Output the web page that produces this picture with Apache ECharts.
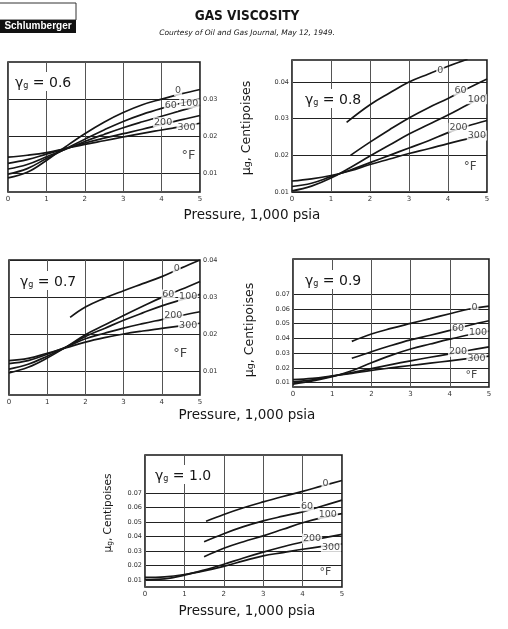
<!DOCTYPE html>
<html>
<head>
<meta charset="utf-8">
<title>Gas Viscosity</title>
<script src="https://cdn.jsdelivr.net/npm/echarts@6.0.0/dist/echarts.min.js"></script>
<style>
  html, body { margin: 0; padding: 0; background: #fff; }
  #main { width: 508px; height: 629px; }
</style>
</head>
<body>
<div id="main"></div>
<script>
// temperatures, deg F (curve labels)
var temps = ['0', '60', '100', '200', '300'];
var gravities = ['0.6', '0.8', '0.7', '0.9', '1.0'];
var pressureTicks = [0, 1, 2, 3, 4, 5];

// gamma 0.6 : [pressure (1000 psia), viscosity (cp)]
var curves06 = [
    [[0, 0.0088], [0.5, 0.0103], [1, 0.0135], [1.5, 0.0172], [2, 0.0207], [2.5, 0.0238], [3, 0.0264], [3.5, 0.0285], [4, 0.0300], [4.5, 0.0314], [5, 0.0326]],
    [[0, 0.0098], [0.5, 0.0113], [1, 0.0140], [1.5, 0.0166], [2, 0.0192], [2.5, 0.0217], [3, 0.0240], [3.5, 0.0259], [4, 0.0275], [4.5, 0.0289], [5, 0.0301]],
    [[0, 0.0112], [0.5, 0.0124], [1, 0.0145], [1.5, 0.0165], [2, 0.0186], [2.5, 0.0205], [3, 0.0223], [3.5, 0.0239], [4, 0.0254], [4.5, 0.0269], [5, 0.0284]],
    [[0, 0.0127], [0.5, 0.0137], [1, 0.0152], [1.5, 0.0167], [2, 0.0182], [2.5, 0.0195], [3, 0.0207], [3.5, 0.0219], [4, 0.0232], [4.5, 0.0244], [5, 0.0256]],
    [[0, 0.0144], [0.5, 0.0149], [1, 0.0156], [1.5, 0.0167], [2, 0.0178], [2.5, 0.0188], [3, 0.0198], [3.5, 0.0208], [4, 0.0217], [4.5, 0.0226], [5, 0.0235]]
];
var labels06 = [[4.43, 0.0322], [4.24, 0.0282], [4.72, 0.0288], [4.04, 0.0238], [4.65, 0.0224]];
var degF06 = [4.7, 0.0149];
var yTicks06 = [0.01, 0.02, 0.03];
var yRange06 = [0.005, 0.04];

// gamma 0.8
var curves08 = [
    [[1.4, 0.0290], [2, 0.0338], [2.5, 0.0370], [3, 0.0400], [3.5, 0.0422], [4, 0.0443], [4.5, 0.0462]],
    [[1.5, 0.0200], [2, 0.0236], [2.5, 0.0270], [3, 0.0302], [3.5, 0.0330], [4, 0.0355], [4.5, 0.0382], [5, 0.0408]],
    [[0, 0.0103], [0.5, 0.0116], [1, 0.0138], [1.5, 0.0167], [2, 0.0198], [2.5, 0.0228], [3, 0.0258], [3.5, 0.0284], [4, 0.0310], [4.5, 0.0338], [5, 0.0365]],
    [[0, 0.0115], [0.5, 0.0124], [1, 0.0142], [1.5, 0.0160], [2, 0.0180], [2.5, 0.0200], [3, 0.0220], [3.5, 0.0240], [4, 0.0262], [4.5, 0.0280], [5, 0.0295]],
    [[0, 0.0130], [0.5, 0.0136], [1, 0.0145], [1.5, 0.0158], [2, 0.0175], [2.5, 0.0190], [3, 0.0205], [3.5, 0.0218], [4, 0.0232], [4.5, 0.0245], [5, 0.0255]]
];
var labels08 = [[3.8, 0.0432], [4.32, 0.0376], [4.74, 0.0353], [4.27, 0.0275], [4.74, 0.0254]];
var degF08 = [4.57, 0.0168];
var yTicks08 = [0.01, 0.02, 0.03, 0.04];
var yRange08 = [0.01, 0.046];

// gamma 0.7
var curves07 = [
    [[1.6, 0.0245], [2, 0.0273], [2.5, 0.0297], [3, 0.0317], [3.5, 0.0336], [4, 0.0355], [4.5, 0.0378], [5, 0.0400]],
    [[0, 0.0095], [0.5, 0.0110], [1, 0.0135], [1.5, 0.0165], [2, 0.0198], [2.5, 0.0224], [3, 0.0250], [3.5, 0.0275], [4, 0.0299], [4.5, 0.0320], [5, 0.0342]],
    [[0, 0.0105], [0.5, 0.0118], [1, 0.0140], [1.5, 0.0165], [2, 0.0193], [2.5, 0.0215], [3, 0.0237], [3.5, 0.0257], [4, 0.0276], [4.5, 0.0292], [5, 0.0307]],
    [[0, 0.0120], [0.5, 0.0128], [1, 0.0145], [1.5, 0.0165], [2, 0.0187], [2.5, 0.0202], [3, 0.0216], [3.5, 0.0228], [4, 0.0239], [4.5, 0.0250], [5, 0.0260]],
    [[0, 0.0128], [0.5, 0.0134], [1, 0.0148], [1.5, 0.0163], [2, 0.0178], [2.5, 0.0190], [3, 0.0200], [3.5, 0.0208], [4, 0.0215], [4.5, 0.0222], [5, 0.0229]]
];
var labels07 = [[4.39, 0.0378], [4.17, 0.0307], [4.69, 0.0300], [4.3, 0.0250], [4.69, 0.0223]];
var degF07 = [4.48, 0.0148];
var yTicks07 = [0.01, 0.02, 0.03, 0.04];
var yRange07 = [0.0035, 0.04];

// gamma 0.9
var curves09 = [
    [[1.5, 0.0380], [2, 0.0430], [2.5, 0.0468], [3, 0.0502], [3.5, 0.0535], [4, 0.0568], [4.5, 0.0600], [5, 0.0620]],
    [[1.5, 0.0265], [2, 0.0310], [2.5, 0.0352], [3, 0.0390], [3.5, 0.0422], [4, 0.0455], [4.5, 0.0490], [5, 0.0520]],
    [[0, 0.0090], [0.5, 0.0112], [1, 0.0140], [1.5, 0.0180], [2, 0.0235], [2.5, 0.0285], [3, 0.0328], [3.5, 0.0362], [4, 0.0395], [4.5, 0.0425], [5, 0.0450]],
    [[0, 0.0105], [0.5, 0.0118], [1, 0.0143], [1.5, 0.0168], [2, 0.0195], [2.5, 0.0222], [3, 0.0248], [3.5, 0.0272], [4, 0.0295], [4.5, 0.0320], [5, 0.0343]],
    [[0, 0.0120], [0.5, 0.0128], [1, 0.0145], [1.5, 0.0163], [2, 0.0183], [2.5, 0.0200], [3, 0.0216], [3.5, 0.0232], [4, 0.0248], [4.5, 0.0264], [5, 0.0280]]
];
var labels09 = [[4.63, 0.0609], [4.21, 0.0468], [4.72, 0.0441], [4.21, 0.0309], [4.68, 0.0264]];
var degF09 = [4.55, 0.0150];
var yTicks09 = [0.01, 0.02, 0.03, 0.04, 0.05, 0.06, 0.07];
var yRange09 = [0.007, 0.094];

// gamma 1.0
var curves10 = [
    [[1.55, 0.0505], [2, 0.0552], [2.5, 0.0598], [3, 0.0638], [3.5, 0.0675], [4, 0.0710], [4.5, 0.0748], [5, 0.0785]],
    [[1.5, 0.0365], [2, 0.0420], [2.5, 0.0468], [3, 0.0508], [3.5, 0.0540], [4, 0.0570], [4.5, 0.0610], [5, 0.0650]],
    [[1.5, 0.0262], [2, 0.0320], [2.5, 0.0365], [3, 0.0405], [3.5, 0.0450], [4, 0.0495], [4.5, 0.0530], [5, 0.0558]],
    [[0, 0.0105], [0.5, 0.0110], [1, 0.0135], [1.5, 0.0170], [2, 0.0210], [2.5, 0.0253], [3, 0.0293], [3.5, 0.0330], [4, 0.0363], [4.5, 0.0390], [5, 0.0415]],
    [[0, 0.0120], [0.5, 0.0124], [1, 0.0140], [1.5, 0.0165], [2, 0.0196], [2.5, 0.0233], [3, 0.0268], [3.5, 0.0290], [4, 0.0313], [4.5, 0.0333], [5, 0.0350]]
];
var labels10 = [[4.58, 0.0764], [4.11, 0.0608], [4.64, 0.0553], [4.24, 0.0386], [4.72, 0.0324]];
var degF10 = [4.58, 0.0157];
var yTicks10 = [0.01, 0.02, 0.03, 0.04, 0.05, 0.06, 0.07];
var yRange10 = [0.0054, 0.096];

var panelData = [
    {curves: curves06, labels: labels06, degF: degF06, ticks: yTicks06, range: yRange06},
    {curves: curves08, labels: labels08, degF: degF08, ticks: yTicks08, range: yRange08},
    {curves: curves07, labels: labels07, degF: degF07, ticks: yTicks07, range: yRange07},
    {curves: curves09, labels: labels09, degF: degF09, ticks: yTicks09, range: yRange09},
    {curves: curves10, labels: labels10, degF: degF10, ticks: yTicks10, range: yRange10}
];

// layout of the five plots (pixels)
var layout = [
    {left: 8, top: 62, width: 192, height: 130, side: 'right', gx: 13, gy: 72, degSize: 13},
    {left: 292, top: 60, width: 195, height: 132, side: 'left', gx: 303, gy: 89, degSize: 12},
    {left: 9, top: 260, width: 191, height: 135, side: 'right', gx: 18, gy: 271, degSize: 13},
    {left: 293, top: 259, width: 196, height: 128, side: 'left', gx: 303, gy: 270, degSize: 11},
    {left: 145, top: 455, width: 197, height: 132, side: 'left', gx: 153, gy: 465, degSize: 11}
];

var ink = '#161616';
var font = 'DejaVu Sans';

var grids = [], xAxes = [], yAxes = [], series = [], graphics = [];

layout.forEach(function (L, i) {
    var P = panelData[i];
    grids.push({
        left: L.left, top: L.top, width: L.width, height: L.height,
        show: true, borderColor: ink, borderWidth: 1.6, backgroundColor: '#fff'
    });
    xAxes.push({
        type: 'value', gridIndex: i, min: 0, max: 5, interval: 1,
        axisLine: {show: false}, axisTick: {show: false},
        axisLabel: {fontSize: 7, color: '#333', margin: 4, fontFamily: font},
        splitLine: {show: true, lineStyle: {color: '#555', width: 1}}
    });
    yAxes.push({
        type: 'value', gridIndex: i, position: L.side,
        min: P.range[0], max: P.range[1],
        axisLine: {show: false},
        axisTick: {show: false, customValues: P.ticks},
        axisLabel: {
            fontSize: 6.5, color: '#333', margin: 3, fontFamily: font,
            customValues: P.ticks,
            formatter: function (v) { return v.toFixed(2); }
        },
        splitLine: {show: true, lineStyle: {color: '#222', width: 1.2}}
    });
    P.curves.forEach(function (c, k) {
        series.push({
            name: gravities[i] + ' / ' + temps[k],
            type: 'line', xAxisIndex: i, yAxisIndex: i,
            data: c, smooth: 0.4, symbol: 'none', z: 3,
            lineStyle: {color: ink, width: 1.7}
        });
    });
    var lab = P.labels.map(function (p, k) { return [p[0], p[1], temps[k]]; });
    series.push({
        type: 'scatter', xAxisIndex: i, yAxisIndex: i, z: 5,
        symbolSize: 1, itemStyle: {color: 'rgba(0,0,0,0)'},
        data: lab,
        label: {
            show: true, position: 'inside', formatter: function (p) { return p.value[2]; },
            fontSize: 9.5, color: ink, fontFamily: font,
            backgroundColor: '#fff', padding: [0, 1]
        }
    });
    series.push({
        type: 'scatter', xAxisIndex: i, yAxisIndex: i, z: 5,
        symbolSize: 1, itemStyle: {color: 'rgba(0,0,0,0)'},
        data: [[P.degF[0], P.degF[1], '\u00B0F']],
        label: {
            show: true, position: 'inside', formatter: function (p) { return p.value[2]; },
            fontSize: L.degSize, color: ink, fontFamily: font
        }
    });
    graphics.push({
        type: 'text', x: L.gx, y: L.gy, z: 10,
        style: {
            text: '{a|\u03B3}{b|g}{a| = ' + gravities[i] + '}',
            backgroundColor: '#fff', padding: [1, 2],
            rich: {
                a: {fontSize: 14, fontFamily: font, fill: ink, lineHeight: 17, verticalAlign: 'bottom'},
                b: {fontSize: 8, fontFamily: font, fill: ink, lineHeight: 8, verticalAlign: 'bottom'}
            }
        }
    });
});

function muLabel(x, y, size) {
    return {
        type: 'text', x: x, y: y, rotation: Math.PI / 2,
        style: {
            text: '{a|\u03BC}{b|g}{a|, Centipoises}',
            align: 'center', verticalAlign: 'middle',
            rich: {
                a: {fontSize: size, fontFamily: font, fill: ink, lineHeight: size + 3, verticalAlign: 'bottom'},
                b: {fontSize: size - 3, fontFamily: font, fill: ink, lineHeight: size - 3, verticalAlign: 'bottom'}
            }
        }
    };
}

function pressureLabel(x, y, size) {
    return {
        type: 'text', x: x, y: y,
        style: {
            text: 'Pressure, 1,000 psia', align: 'center', verticalAlign: 'middle',
            fontSize: size, fontFamily: font, fill: ink
        }
    };
}

graphics.push(
    {type: 'rect', shape: {x: -1, y: 3, width: 77, height: 17}, style: {fill: 'none', stroke: '#333', lineWidth: 1}},
    {type: 'rect', shape: {x: 0, y: 20, width: 76, height: 13}, style: {fill: '#111'}},
    {type: 'text', x: 38, y: 26.5, style: {text: 'Schlumberger', align: 'center', verticalAlign: 'middle', fontSize: 10, fontWeight: 'bold', fontFamily: 'Liberation Sans', fill: '#fff'}},
    {type: 'text', x: 247, y: 16, style: {text: 'GAS VISCOSITY', align: 'center', verticalAlign: 'middle', fontSize: 13.5, fontWeight: 'bold', fontFamily: 'DejaVu Sans Condensed', fill: ink}},
    {type: 'text', x: 247, y: 33, style: {text: 'Courtesy of Oil and Gas Journal, May 12, 1949.', align: 'center', verticalAlign: 'middle', fontSize: 7.5, fontStyle: 'italic', fontFamily: font, fill: ink}},
    pressureLabel(252, 215, 13.5),
    pressureLabel(247, 415, 13.5),
    pressureLabel(247, 611, 13.5),
    muLabel(245, 128, 12.5),
    muLabel(248, 330, 12.5),
    muLabel(107, 513, 10.5)
);

var myChart = echarts.init(document.getElementById('main'), null, {renderer: 'canvas'});
var option = {
    backgroundColor: '#fff',
    animation: false,
    grid: grids,
    xAxis: xAxes,
    yAxis: yAxes,
    series: series,
    graphic: graphics
};
myChart.setOption(option);
</script>
</body>
</html>
